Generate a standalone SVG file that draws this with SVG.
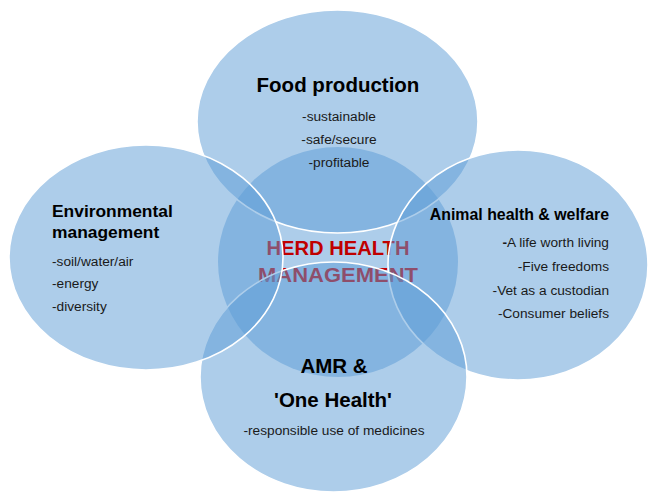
<svg xmlns="http://www.w3.org/2000/svg" width="652" height="492" viewBox="0 0 652 492">
<style>
.shape{fill:#5b9bd5;fill-opacity:0.5}
.outer{stroke:#ffffff;stroke-width:1.6}
.title{font-family:"Liberation Sans",Arial,sans-serif;font-weight:bold;fill:#000000}
.item{font-family:"Liberation Sans",Arial,sans-serif;fill:#1a1a1a;font-size:13.7px}
.core{font-family:"Liberation Sans",Arial,sans-serif;font-weight:bold;fill:#c00000;font-size:21px}
</style>
<rect width="652" height="492" fill="#ffffff"/>
<g id="herd-health">
<ellipse class="shape" cx="338" cy="262" rx="120" ry="115"/>
<text class="core" x="338" y="255" text-anchor="middle" textLength="143" lengthAdjust="spacingAndGlyphs">HERD HEALTH</text>
<text class="core" x="338" y="282" text-anchor="middle" textLength="160" lengthAdjust="spacingAndGlyphs">MANAGEMENT</text>
</g>
<g id="food-production">
<ellipse class="shape outer" cx="337.5" cy="121.5" rx="140.5" ry="111.5"/>
<text class="title" x="338" y="92" text-anchor="middle" font-size="20.5">Food production</text>
<text class="item" x="339" y="121" text-anchor="middle">-sustainable</text>
<text class="item" x="339" y="144" text-anchor="middle">-safe/secure</text>
<text class="item" x="339" y="167" text-anchor="middle">-profitable</text>
</g>
<g id="animal-health">
<ellipse class="shape outer" cx="518" cy="265" rx="130" ry="115"/>
<text class="title" x="609" y="220" text-anchor="end" font-size="15.9">Animal health &amp; welfare</text>
<text class="item" x="609" y="247" text-anchor="end"><tspan font-weight="bold">-</tspan>A life worth living</text>
<text class="item" x="609" y="271" text-anchor="end">-Five freedoms</text>
<text class="item" x="609" y="295" text-anchor="end">-Vet as a custodian</text>
<text class="item" x="609" y="318" text-anchor="end">-Consumer beliefs</text>
</g>
<g id="amr-one-health">
<ellipse class="shape outer" cx="333.5" cy="377" rx="133.5" ry="115"/>
<text class="title" x="334" y="373" text-anchor="middle" font-size="20.5">AMR &amp;</text>
<text class="title" x="333" y="407" text-anchor="middle" font-size="20.5">'One Health'</text>
<text class="item" x="334" y="435" text-anchor="middle">-responsible use of medicines</text>
</g>
<g id="environmental">
<ellipse class="shape outer" cx="146" cy="257.5" rx="137" ry="112.5"/>
<text class="title" x="52" y="217" font-size="17.4">Environmental</text>
<text class="title" x="52" y="238" font-size="17.4">management</text>
<text class="item" x="52" y="266" font-size="14.6">-soil/water/air</text>
<text class="item" x="52" y="288" font-size="14.6">-energy</text>
<text class="item" x="52" y="311" font-size="14.6">-diversity</text>
</g>
<g id="connectors"></g>
</svg>
